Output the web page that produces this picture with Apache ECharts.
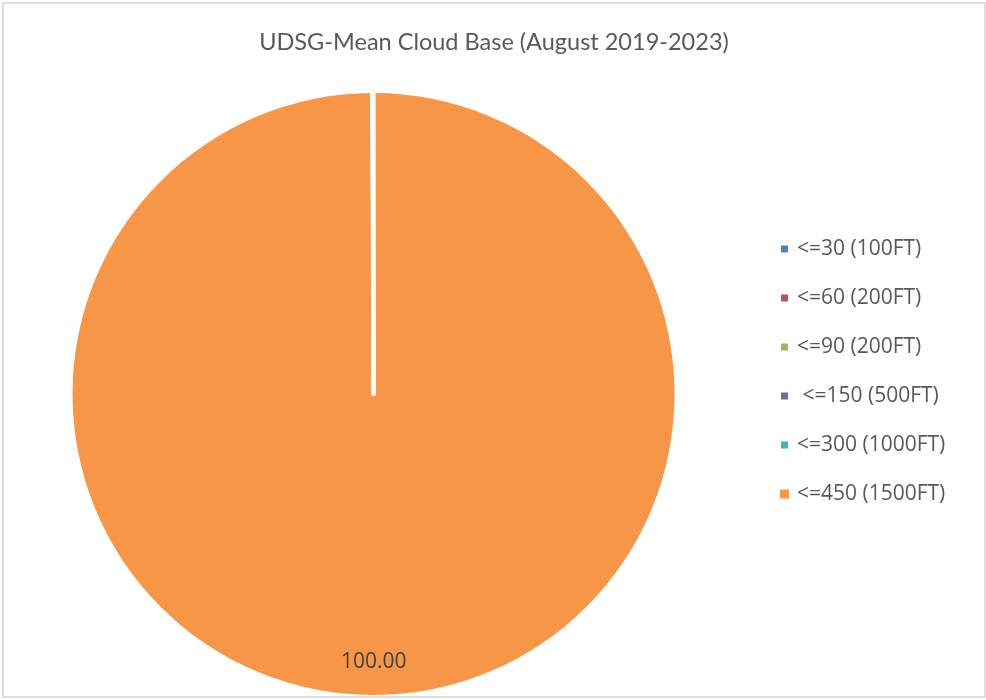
<!DOCTYPE html>
<html>
<head>
<meta charset="utf-8">
<script src="https://cdn.jsdelivr.net/npm/echarts@6/dist/echarts.min.js"></script>
<style>
html,body{margin:0;padding:0;background:#fff;}
#chart{width:986px;height:700px;position:absolute;left:0;top:0;}
#frame{position:absolute;left:2px;top:2px;width:980px;height:692px;border:2px solid #dedede;pointer-events:none;}
</style>
</head>
<body>
<div id="chart"></div>
<div id="frame"></div>
<script>
const title = 'UDSG-Mean Cloud Base (August 2019-2023)';
const categories = ['<=30 (100FT)', '<=60 (200FT)', '<=90 (200FT)', ' <=150 (500FT)', '<=300 (1000FT)', '<=450 (1500FT)'];
const values = [0, 0, 0, 0, 0, 100.00];
const colors = ['#4F81BD', '#C0504D', '#9BBB59', '#8064A2', '#4BACC6', '#F79646'];

// draw the non-zero slice first so the zero slices' white borders sit on top
const pieData = categories.map((c, i) => ({
  name: c,
  value: values[i],
  itemStyle: values[i] > 0
    ? { color: colors[i], borderWidth: 0 }
    : { color: colors[i], borderColor: '#ffffff', borderWidth: 4 }
})).reverse();

const chart = echarts.init(document.getElementById('chart'));
chart.setOption({
  animation: false,
  title: {
    text: title,
    left: 489,
    textAlign: 'center',
    top: 25,
    textStyle: { fontFamily: 'Lato', fontWeight: 'normal', fontSize: 23.5, color: '#595959' }
  },
  legend: {
    orient: 'vertical',
    left: 779,
    top: 237,
    padding: 0,
    icon: 'rect',
    itemWidth: 9,
    itemHeight: 9,
    itemGap: 25,
    textStyle: { fontFamily: 'Open Sans', fontSize: 21, color: '#595959', lineHeight: 24, padding: [0, 0, 0, 3] },
    data: categories
  },
  series: [{
    type: 'pie',
    center: [373.5, 394],
    radius: 301,
    startAngle: 90,
    clockwise: true,
    minAngle: 0.05,
    avoidLabelOverlap: false,
    labelLine: { show: false },
    label: {
      show: true,
      position: 'inside',
      offset: [0, 115],
      fontFamily: 'Open Sans',
      fontSize: 21,
      color: '#404040',
      formatter: p => p.value > 0 ? p.value.toFixed(2) : ''
    },
    emphasis: { disabled: true },
    data: pieData
  }]
});
</script>
</body>
</html>
